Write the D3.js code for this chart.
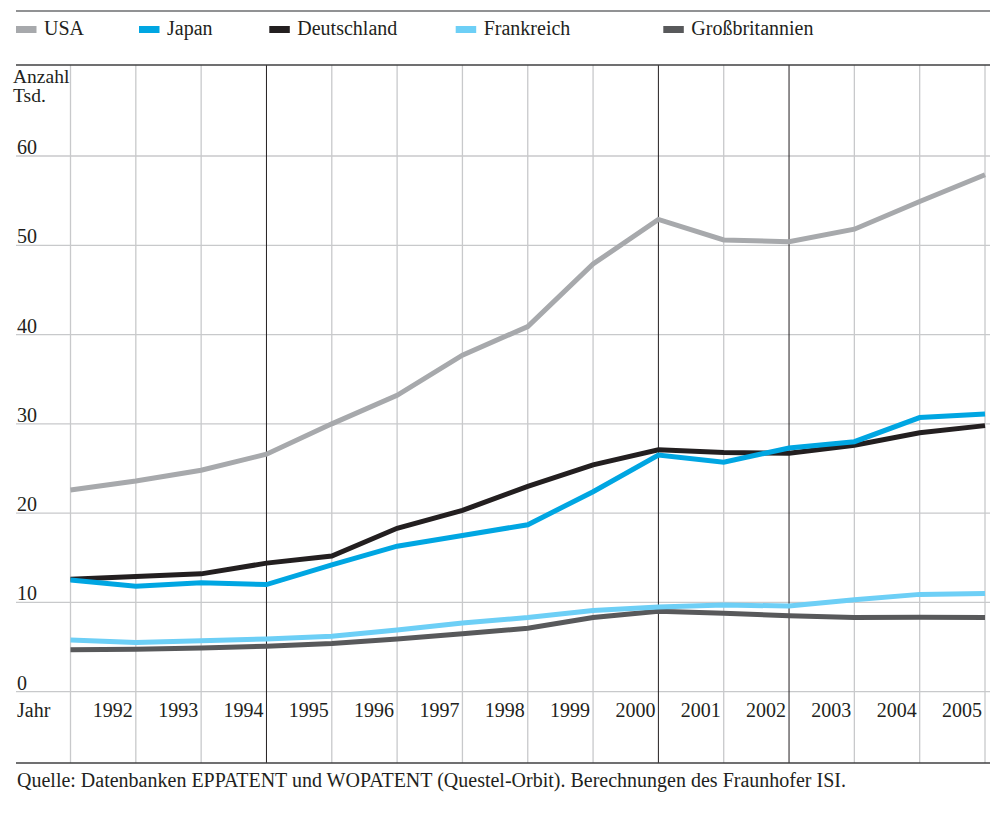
<!DOCTYPE html>
<html>
<head>
<meta charset="utf-8">
<script src="https://cdn.jsdelivr.net/npm/d3@7"></script>
<style>
  html, body { margin: 0; padding: 0; background: #fff; }
  svg { display: block; }
</style>
</head>
<body>
<svg id="chart" width="990" height="814" font-family="'Liberation Serif', 'Times New Roman', Times, serif"></svg>
<script>
// ---- data ----
const years = [1991, 1992, 1993, 1994, 1995, 1996, 1997, 1998, 1999, 2000, 2001, 2002, 2003, 2004, 2005];
const yearLabels = ["1992", "1993", "1994", "1995", "1996", "1997", "1998", "1999", "2000", "2001", "2002", "2003", "2004", "2005"];
const seriesNames = ["USA", "Japan", "Deutschland", "Frankreich", "Großbritannien"];
const seriesColors = ["#a7a9ac", "#00a6e2", "#231f20", "#6dcff6", "#58595b"];
const usa          = [22.6, 23.6, 24.8, 26.6, 30.0, 33.2, 37.7, 40.9, 47.9, 52.9, 50.6, 50.4, 51.8, 54.9, 57.9];
const japan        = [12.5, 11.8, 12.2, 12.0, 14.2, 16.3, 17.5, 18.7, 22.4, 26.5, 25.7, 27.3, 28.0, 30.7, 31.1];
const deutschland  = [12.6, 12.9, 13.2, 14.4, 15.2, 18.3, 20.3, 23.0, 25.4, 27.1, 26.8, 26.7, 27.6, 29.0, 29.8];
const frankreich   = [5.8, 5.5, 5.7, 5.9, 6.2, 6.9, 7.7, 8.3, 9.1, 9.5, 9.7, 9.6, 10.3, 10.9, 11.0];
const grossbrit    = [4.7, 4.75, 4.9, 5.1, 5.4, 5.9, 6.5, 7.1, 8.3, 9.0, 8.8, 8.5, 8.3, 8.35, 8.3];
const yTicks = [0, 10, 20, 30, 40, 50, 60];
const darkYears = [1994, 2000, 2002];
const yTitle = ["Anzahl", "Tsd."];
const xTitle = "Jahr";
const source = "Quelle: Datenbanken EPPATENT und WOPATENT (Questel-Orbit). Berechnungen des Fraunhofer ISI.";

const seriesValues = [usa, japan, deutschland, frankreich, grossbrit];
const series = seriesNames.map((n, i) => ({ name: n, color: seriesColors[i], values: seriesValues[i] }));

// ---- layout ----
const svg = d3.select("#chart");
const textColor = "#231f20";
const fs = 20;
const left = 16, right = 990;
const plotTop = 65, plotBottom = 763;
const x = d3.scaleLinear().domain([1991, 2005]).range([70.5, 985]);
const y = d3.scaleLinear().domain([0, 60]).range([691.7, 156]);

// top rule
svg.append("line").attr("x1", left).attr("x2", right).attr("y1", 11).attr("y2", 11)
  .attr("stroke", "#6d6e71").attr("stroke-width", 1.6);

// legend
const legendX = [16, 139, 269.3, 455.7, 663.3];
const lg = svg.append("g");
series.forEach((s, i) => {
  lg.append("rect").attr("x", legendX[i]).attr("y", 26).attr("width", 20.5).attr("height", 7)
    .attr("fill", s.color);
  lg.append("text").attr("x", legendX[i] + 28).attr("y", 34.5).attr("font-size", fs)
    .attr("fill", textColor).text(s.name);
});

// horizontal gridlines
svg.append("g").selectAll("line").data(yTicks).join("line")
  .attr("x1", left).attr("x2", right)
  .attr("y1", d => y(d)).attr("y2", d => y(d))
  .attr("stroke", "#c8c9cb").attr("stroke-width", 1.3);

// vertical gridlines
svg.append("g").selectAll("line").data(years).join("line")
  .attr("x1", d => x(d)).attr("x2", d => x(d))
  .attr("y1", plotTop).attr("y2", plotBottom)
  .attr("stroke", d => darkYears.includes(d) ? "#231f20" : "#c8c9cb")
  .attr("stroke-width", d => darkYears.includes(d) ? 1 : 1.3);

// frame rules
svg.append("line").attr("x1", left).attr("x2", right).attr("y1", plotTop).attr("y2", plotTop)
  .attr("stroke", "#414042").attr("stroke-width", 1.3);
svg.append("line").attr("x1", left).attr("x2", right).attr("y1", plotBottom).attr("y2", plotBottom)
  .attr("stroke", "#414042").attr("stroke-width", 1.5);

// y tick labels
svg.append("g").selectAll("text").data(yTicks).join("text")
  .attr("x", 17).attr("y", d => y(d) - 2)
  .attr("font-size", fs).attr("fill", textColor).text(d => d);

// y title
svg.append("g").selectAll("text").data(yTitle).join("text")
  .attr("x", 13).attr("y", (d, i) => 83 + i * 19)
  .attr("font-size", 19.5).attr("fill", textColor).text(d => d);

// x labels
svg.append("text").attr("x", 17).attr("y", 717).attr("font-size", fs).attr("fill", textColor).text(xTitle);
svg.append("g").selectAll("text").data(yearLabels).join("text")
  .attr("x", d => x(+d) - 3).attr("y", 717)
  .attr("text-anchor", "end").attr("font-size", fs).attr("fill", textColor).text(d => d);

// lines
const line = d3.line().x((d, i) => x(years[i])).y(d => y(d)).curve(d3.curveLinear);
const drawOrder = ["USA", "Deutschland", "Japan", "Großbritannien", "Frankreich"];
svg.append("g").selectAll("path").data(drawOrder.map(n => series.find(s => s.name === n))).join("path")
  .attr("d", s => line(s.values))
  .attr("fill", "none").attr("stroke", s => s.color)
  .attr("stroke-width", 5).attr("stroke-linejoin", "miter").attr("stroke-linecap", "butt");

// source
svg.append("text").attr("x", 17).attr("y", 787).attr("font-size", fs).attr("fill", textColor).text(source);
</script>
</body>
</html>
